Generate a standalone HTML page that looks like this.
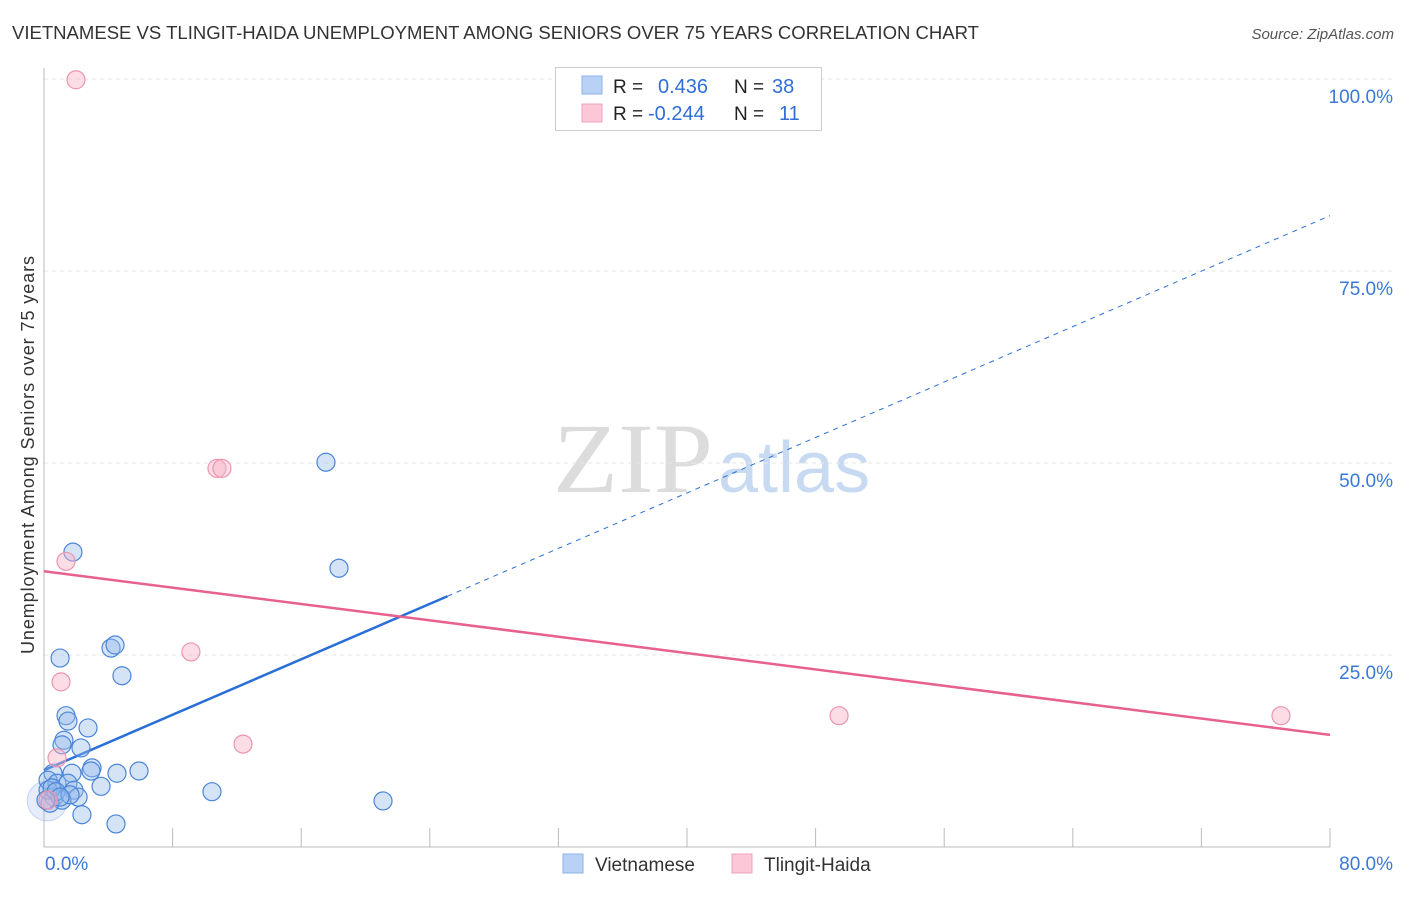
<!DOCTYPE html>
<html><head><meta charset="utf-8"><style>
body{margin:0;background:#fff;font-family:"Liberation Sans",sans-serif;}
</style></head><body>
<svg id="chart" width="1406" height="892" font-family="Liberation Sans, sans-serif">
<text x="12" y="39" font-size="18" fill="#333" textLength="967" lengthAdjust="spacingAndGlyphs">VIETNAMESE VS TLINGIT-HAIDA UNEMPLOYMENT AMONG SENIORS OVER 75 YEARS CORRELATION CHART</text>
<text x="1394" y="39" font-size="15" fill="#555" font-style="italic" text-anchor="end">Source: ZipAtlas.com</text>
<text x="34" y="455" font-size="18" fill="#333" text-anchor="middle" transform="rotate(-90 34 455)" textLength="398">Unemployment Among Seniors over 75 years</text>
<text x="553" y="492" font-size="100" fill="#dcdcdc" style="font-family:'Liberation Serif',serif" textLength="160" lengthAdjust="spacingAndGlyphs">ZIP</text>
<text x="718" y="492" font-size="72" fill="#c8daf2">atlas</text>
<g id="grid"></g><g id="axes"></g><g id="lines"></g><g id="pts"></g>
<g>
<rect x="555.5" y="67.5" width="266" height="63" fill="#fff" stroke="#ccc"/>
<rect x="582" y="76" width="20" height="18" fill="#b8d1f5" stroke="#8cb3ea"/>
<rect x="582" y="104" width="20" height="18" fill="#fcc8d8" stroke="#f0a0b8"/>
<text x="613" y="93" font-size="19" fill="#222">R = </text><text x="658" y="93" font-size="20" fill="#2f6fd6">0.436</text>
<text x="734" y="93" font-size="19" fill="#222">N = </text><text x="772" y="93" font-size="20" fill="#2f6fd6">38</text>
<text x="613" y="120" font-size="19" fill="#222">R = </text><text x="648" y="120" font-size="20" fill="#2f6fd6">-0.244</text>
<text x="734" y="120" font-size="19" fill="#222">N = </text><text x="779" y="120" font-size="20" fill="#2f6fd6">11</text>
</g>
<g>
<rect x="563" y="854" width="20" height="19" fill="#b8d1f5" stroke="#8cb3ea"/>
<text x="595" y="871" font-size="19" fill="#333">Vietnamese</text>
<rect x="732" y="854" width="20" height="19" fill="#fcc8d8" stroke="#f0a0b8"/>
<text x="764" y="871" font-size="19" fill="#333">Tlingit-Haida</text>
</g>
</svg>
<script>
const yTicks=[100,75,50,25];
const yTickLabels=["100.0%","75.0%","50.0%","25.0%"];
const xTickLabels=["0.0%","80.0%"];
const blueX=[1.80,4.17,4.42,1.00,4.85,1.37,1.49,2.74,1.24,1.12,2.30,2.99,2.92,4.54,5.91,1.74,0.56,0.25,0.81,1.49,1.87,3.55,2.12,0.62,1.12,0.37,2.36,4.48,10.45,21.09,17.54,18.35,0.25,0.5,0.75,1.62,1.0,0.12];
const blueY=[38.4,25.9,26.3,24.6,22.3,17.1,16.4,15.5,13.9,13.3,12.9,10.3,9.9,9.6,9.9,9.6,9.6,8.7,8.3,8.3,7.4,7.9,6.5,6.5,6.1,5.7,4.2,3.0,7.2,6.0,50.1,36.3,7.4,7.7,7.2,6.8,6.5,6.1];
const pinkX=[1.99,10.76,11.07,1.37,9.14,1.06,12.38,49.46,76.95,0.81,0.25];
const pinkY=[99.9,49.3,49.3,37.2,25.4,21.5,13.4,17.1,17.1,11.6,6.1];
const blueTrend=[10.0,82.2], blueSolidEnd=25.1;
const pinkTrend=[35.9,14.6];
const X=v=>44+v*(1286/80), Y=v=>847-v*7.68;
const NS="http://www.w3.org/2000/svg";
function mk(parent,tag,attrs){const e=document.createElementNS(NS,tag);for(const k in attrs)e.setAttribute(k,attrs[k]);document.getElementById(parent).appendChild(e);return e;}
yTicks.forEach((t,i)=>{
 const g=mk('grid','line',{x1:44,x2:1394,y1:Y(t),y2:Y(t),stroke:'#e6e6e6','stroke-dasharray':'4,4'});
 
 
 const l=mk('axes','text',{x:1393,y:Y(t)+24,'font-size':19,fill:'#3b78d8','text-anchor':'end'});l.textContent=yTickLabels[i];
 
 
});
const ax=mk('axes','line',{x1:44,x2:44,y1:68,y2:847,stroke:'#bbb'});


const bx=mk('axes','line',{x1:44,x2:1330,y1:847,y2:847,stroke:'#bbb'});


for(let i=1;i<=10;i++){const t=mk('axes','line',{x1:X(i*8),x2:X(i*8),y1:828,y2:847,stroke:'#bbb'});
 
 }
[[0,'start',45],[80,'end',1393]].forEach((a,i)=>{const t=mk('axes','text',{x:a[2],y:870,'font-size':19,fill:'#3b78d8','text-anchor':a[1]});t.textContent=xTickLabels[i];
 
 });
const slope=(blueTrend[1]-blueTrend[0])/80;
const b1=mk('lines','line',{x1:X(0),y1:Y(blueTrend[0]),x2:X(blueSolidEnd),y2:Y(blueTrend[0]+slope*blueSolidEnd),stroke:'#2a6fd8','stroke-width':2.5});


const b2=mk('lines','line',{x1:X(blueSolidEnd),y1:Y(blueTrend[0]+slope*blueSolidEnd),x2:X(80),y2:Y(blueTrend[1]),stroke:'#2a6fd8','stroke-width':1,'stroke-dasharray':'5,5'});


const p1=mk('lines','line',{x1:X(0),y1:Y(pinkTrend[0]),x2:X(80),y2:Y(pinkTrend[1]),stroke:'#e8608e','stroke-width':2.5});


const big=mk('pts','circle',{cx:X(0.2),cy:Y(6),r:20,fill:'rgba(150,185,235,0.25)',stroke:'rgba(120,160,225,0.4)'});


blueX.forEach((x,i)=>{const c=mk('pts','circle',{cx:X(x),cy:Y(blueY[i]),r:9,fill:'rgba(150,185,235,0.4)',stroke:'#4a86d8','stroke-width':1.2});
 
 });
pinkX.forEach((x,i)=>{const c=mk('pts','circle',{cx:X(x),cy:Y(pinkY[i]),r:9,fill:'rgba(248,180,200,0.45)',stroke:'#ec95b0','stroke-width':1.2});
 
 });
</script>
</body></html>
